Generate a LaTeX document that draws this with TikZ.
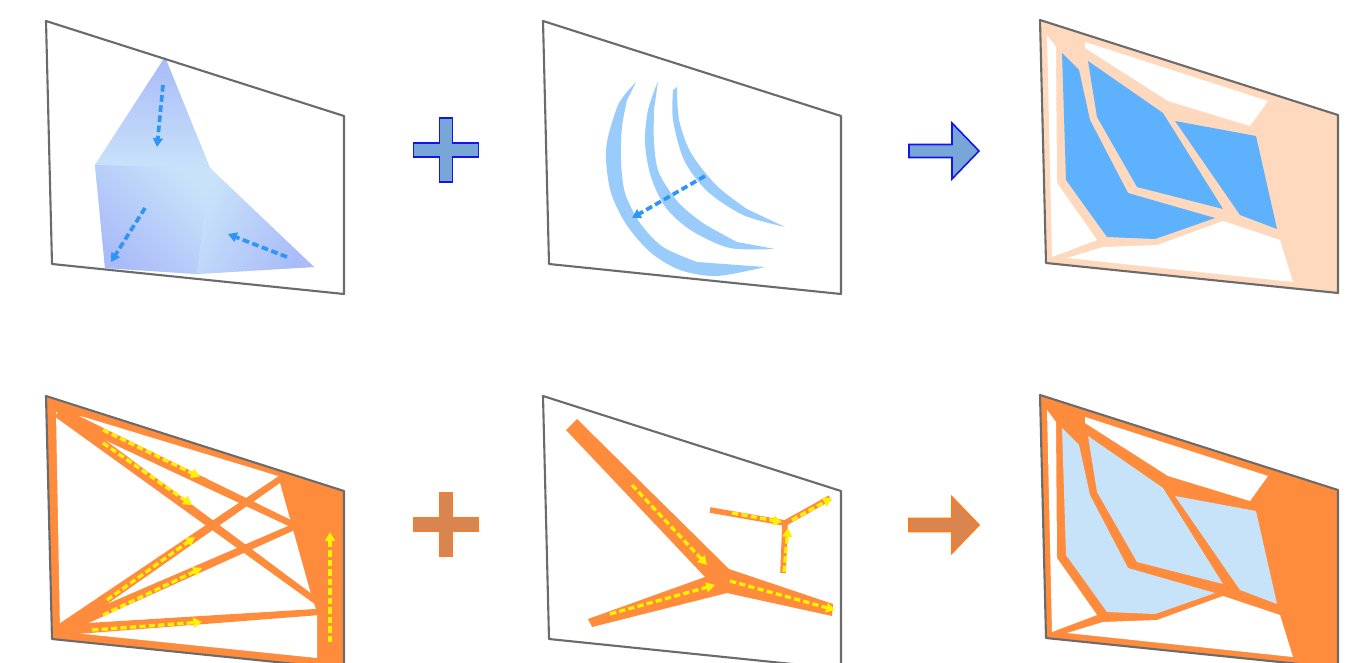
\documentclass[tikz,border=0pt]{standalone}
\usepackage{tikz}
\usetikzlibrary{arrows.meta, calc}

\definecolor{frmgray}{HTML}{6B6B6B}
\definecolor{softblue}{HTML}{C8E2FA}
\definecolor{deepblue}{HTML}{A9BBF8}
\definecolor{arcblue}{HTML}{99CCFB}
\definecolor{flowblue}{HTML}{2E94F5}
\definecolor{peach}{HTML}{FED9BE}
\definecolor{cellblue}{HTML}{5EB1FD}
\definecolor{paleblue}{HTML}{C7E3FA}
\definecolor{orng}{HTML}{FF8C3D}
\definecolor{flowyellow}{HTML}{FFF200}
\definecolor{opfillblue}{HTML}{78A6D6}
\definecolor{opedgeblue}{HTML}{1414F0}
\definecolor{opfillorange}{HTML}{D8854F}
\definecolor{opedgeorange}{HTML}{FF7A1F}

\def\framepath{(0,0) -- (298,95) -- (298,273) -- (6,243) -- cycle}
\def\plussign{(-6.5,-32) -- (6.5,-32) -- (6.5,-7) -- (32.5,-7) -- (32.5,7) -- (6.5,7) -- (6.5,32) -- (-6.5,32) -- (-6.5,7) -- (-32.5,7) -- (-32.5,-7) -- (-6.5,-7) -- cycle}
\def\arrowsign{(0,-6.5) -- (43,-6.5) -- (43,-28) -- (70,0) -- (43,28) -- (43,6.5) -- (0,6.5) -- cycle}

% tapered orange bar: from, to, half width at start, half width at end
\newcommand{\taper}[4]{%
  \fill[orng] ($#1!#3!90:#2$) -- ($#2!#4!-90:#1$) -- ($#2!#4!90:#1$) -- ($#1!#3!-90:#2$) -- cycle;}

% result panel: band colour, cell colour
\newcommand{\cellmap}[2]{%
  \fill[#1, shift={(1040,20)}] \framepath;
  \fill[white] (1047,35) -- (1056,47) -- (1057,183) -- (1097,240) -- (1052,257) -- cycle;
  \fill[white] (1085,42) -- (1268,101) -- (1250,126) -- (1168,101) -- (1085,48) -- cycle;
  \fill[white] (1067,258) -- (1103,247) -- (1157,245) -- (1223,221) -- (1280,240) -- (1293,282) -- cycle;
  \fill[#2] (1062,53) -- (1079,70) -- (1090,120) -- (1128,193) -- (1215,218) -- (1155,239) -- (1107,237) -- (1066,180) -- cycle;
  \fill[#2] (1088,61) -- (1163,113) -- (1223,209) -- (1137,187) -- (1097,117) -- cycle;
  \fill[#2] (1175,121) -- (1256,136) -- (1277,229) -- (1240,215) -- cycle;
  \draw[panel, shift={(1040,20)}] \framepath;}

\begin{document}
\begin{tikzpicture}[
    x=0.02cm, y=-0.02cm,
    panel/.style={draw=frmgray, line width=1.2pt, line join=round},
    flowb/.style={draw=flowblue, line width=2.1pt, dash pattern=on 3.8pt off 2pt, -{Triangle[length=5pt,width=5.5pt]}},
    flowy/.style={draw=flowyellow, line width=1.9pt, dash pattern=on 3.6pt off 1.8pt, -{Triangle[length=5pt,width=5.5pt]}},
    opblue/.style={fill=opfillblue, draw=opedgeblue, line width=0.9pt},
    oporange/.style={fill=opfillorange, draw=opedgeorange, line width=0.9pt},
]
\useasboundingbox (0,0) rectangle (1361,662);
\clip (0,0) rectangle (1361,662);

% top row
\fill[softblue] (165,57) -- (210,168) -- (314,267) -- (197,274) -- (105,268) -- (95,165) -- cycle;
\shade[top color=deepblue, bottom color=softblue] (165,57) -- (210,168) -- (95,165) -- cycle;
\shade[top color=softblue, bottom color=deepblue, shading angle=-45] (95,165) -- (210,168) -- (197,274) -- (105,268) -- cycle;
\shade[top color=softblue, bottom color=deepblue, shading angle=60] (210,168) -- (314,267) -- (197,274) -- cycle;
\draw[flowb] (163,85) -- (157,147);
\draw[flowb] (145,208) -- (111,262);
\draw[flowb] (287,257) -- (228,234);
\draw[panel, shift={(46,21)}] \framepath;

\draw[opblue, shift={(446,150)}] \plussign;

\fill[arcblue] plot[smooth] coordinates {(636,82) (619,103) (608,137) (606,160) (611,193) (626,224) (650,252) (680,270) (717,276) (765,267)}
  -- plot[smooth] coordinates {(697,262) (663,247) (640,223) (625,193) (621,160) (622,127) (627,100)} -- cycle;
\fill[arcblue] plot[smooth] coordinates {(658,81) (648,110) (645,143) (651,177) (666,208) (692,231) (730,248) (775,249)}
  -- plot[smooth] coordinates {(737,242) (703,223) (678,202) (659,173) (654,143) (654,110)} -- cycle;
\fill[arcblue] plot[smooth] coordinates {(673,90) (673,120) (684,160) (707,191) (743,215) (785,227)}
  -- plot[smooth] coordinates {(747,209) (717,186) (691,153) (679,120) (677,87)} -- cycle;
\draw[flowb] (705,176) -- (632,218);
\draw[panel, shift={(543,21)}] \framepath;

\draw[opblue, shift={(909,151)}] \arrowsign;

\cellmap{peach}{cellblue}

% bottom row
\begin{scope}
  \clip[shift={(46,396)}] \framepath;
  \fill[orng, shift={(46,396)}] \framepath;
  \fill[white] (56,412) -- (84,417) -- (278,476) -- (312,598) -- (317,612) -- (317,658) -- (84,634) -- (60,630) -- cycle;
  \taper{(58,412)}{(296,526)}{3.2pt}{1.8pt}
  \taper{(58,412)}{(316,601)}{3.2pt}{1.8pt}
  \taper{(60,630)}{(283,477)}{3.2pt}{1.8pt}
  \taper{(60,630)}{(296,526)}{3pt}{1.8pt}
  \taper{(60,630)}{(318,612)}{3pt}{1.8pt}
\end{scope}
\draw[flowy] (103,430) -- (200,477);
\draw[flowy] (103,443) -- (192,505);
\draw[flowy] (107,600) -- (195,537);
\draw[flowy] (103,615) -- (202,568);
\draw[flowy] (92,630) -- (202,622);
\draw[flowy] (330,642) -- (330,532);
\draw[panel, shift={(46,396)}] \framepath;

\draw[oporange, shift={(446,524.5)}] \plussign;

\fill[orng] (566,430) -- (577,419) -- (729,569) -- (833,604) -- (832,616) -- (727,593) -- (592,627) -- (588,619) -- (705,577) -- cycle;
\draw[orng, line width=3.2pt, line join=round] (710,510) -- (785,523) -- (830,498) (785,523) -- (783,573);
\draw[flowy] (632,485) -- (707,565);
\draw[flowy] (610,614) -- (715,585);
\draw[flowy] (730,581) -- (835,610);
\draw[flowy] (732,513) -- (782,522);
\draw[flowy] (792,520) -- (832,498);
\draw[flowy] (784,572) -- (788,528);
\draw[panel, shift={(543,396)}] \framepath;

\draw[oporange, shift={(909,525)}] \arrowsign;

\begin{scope}[shift={(0,375)}]
  \cellmap{orng}{paleblue}
\end{scope}
\end{tikzpicture}
\end{document}
